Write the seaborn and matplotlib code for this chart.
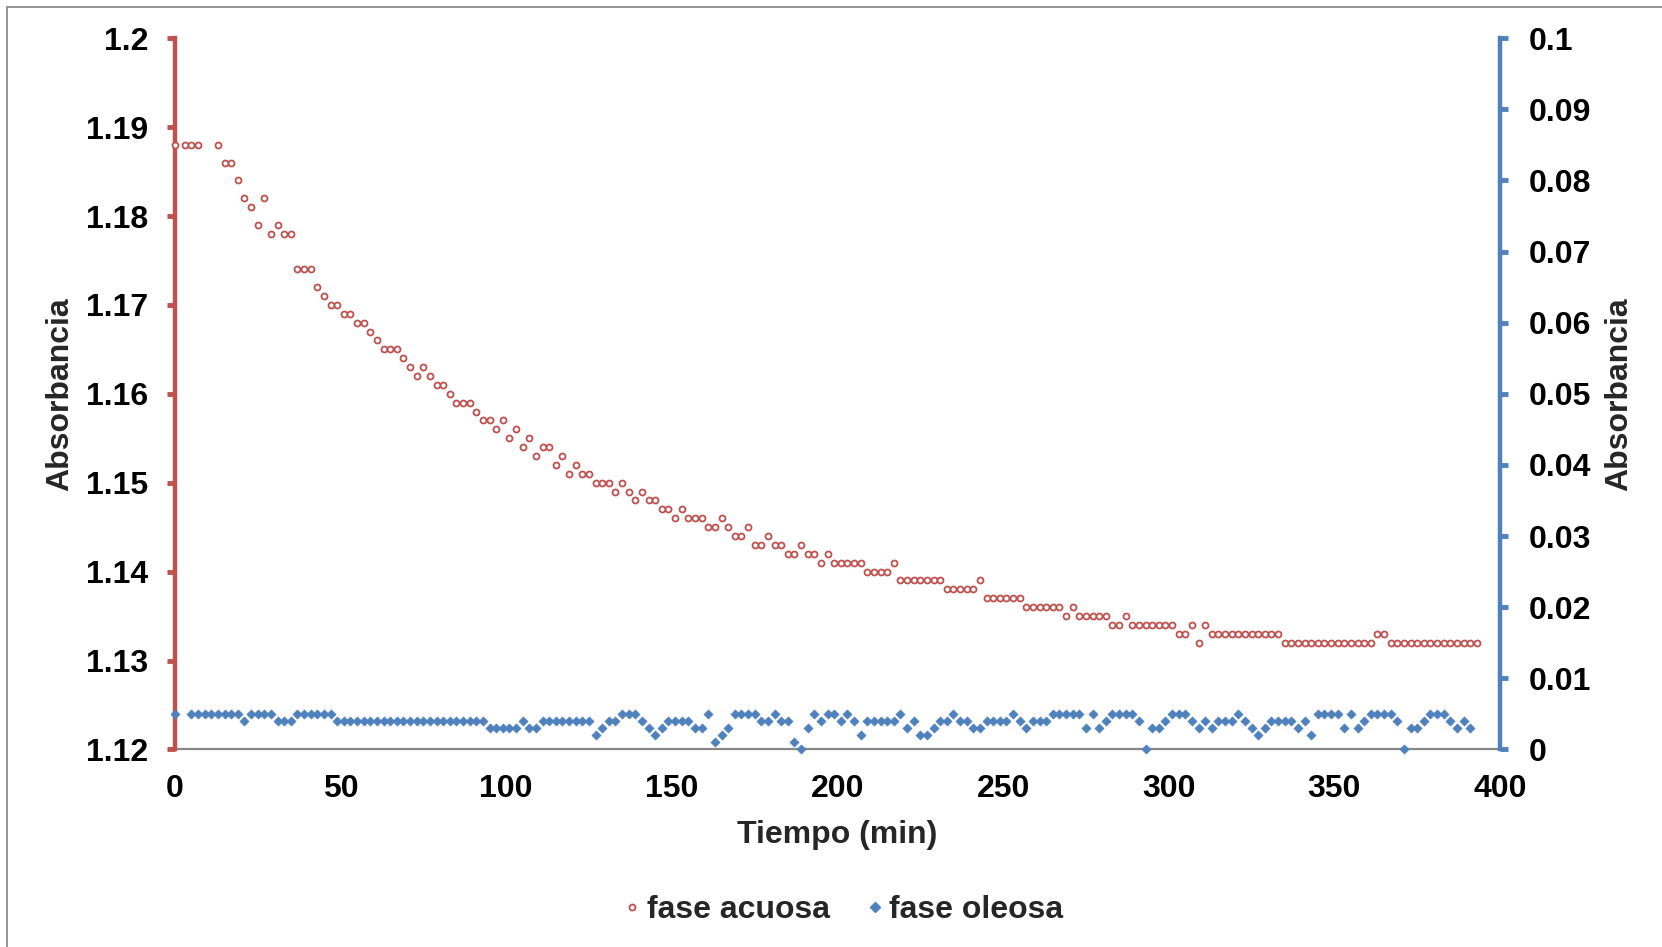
import matplotlib
matplotlib.use("Agg")
import matplotlib.pyplot as plt
from matplotlib.lines import Line2D
import seaborn as sns
import pandas as pd

# ---------------- data ----------------
red_t = [0, 3, 5, 7, 13, 15, 17, 19, 21, 23,
         25, 27, 29, 31, 33, 35, 37, 39, 41, 43,
         45, 47, 49, 51, 53, 55, 57, 59, 61, 63,
         65, 67, 69, 71, 73, 75, 77, 79, 81, 83,
         85, 87, 89, 91, 93, 95, 97, 99, 101, 103,
         105, 107, 109, 111, 113, 115, 117, 119, 121, 123,
         125, 127, 129, 131, 133, 135, 137, 139, 141, 143,
         145, 147, 149, 151, 153, 155, 157, 159, 161, 163,
         165, 167, 169, 171, 173, 175, 177, 179, 181, 183,
         185, 187, 189, 191, 193, 195, 197, 199, 201, 203,
         205, 207, 209, 211, 213, 215, 217, 219, 221, 223,
         225, 227, 229, 231, 233, 235, 237, 239, 241, 243,
         245, 247, 249, 251, 253, 255, 257, 259, 261, 263,
         265, 267, 269, 271, 273, 275, 277, 279, 281, 283,
         285, 287, 289, 291, 293, 295, 297, 299, 301, 303,
         305, 307, 309, 311, 313, 315, 317, 319, 321, 323,
         325, 327, 329, 331, 333, 335, 337, 339, 341, 343,
         345, 347, 349, 351, 353, 355, 357, 359, 361, 363,
         365, 367, 369, 371, 373, 375, 377, 379, 381, 383,
         385, 387, 389, 391, 393]
red_v = [1.188, 1.188, 1.188, 1.188, 1.188, 1.186, 1.186, 1.184, 1.182, 1.181,
         1.179, 1.182, 1.178, 1.179, 1.178, 1.178, 1.174, 1.174, 1.174, 1.172,
         1.171, 1.170, 1.170, 1.169, 1.169, 1.168, 1.168, 1.167, 1.166, 1.165,
         1.165, 1.165, 1.164, 1.163, 1.162, 1.163, 1.162, 1.161, 1.161, 1.160,
         1.159, 1.159, 1.159, 1.158, 1.157, 1.157, 1.156, 1.157, 1.155, 1.156,
         1.154, 1.155, 1.153, 1.154, 1.154, 1.152, 1.153, 1.151, 1.152, 1.151,
         1.151, 1.150, 1.150, 1.150, 1.149, 1.150, 1.149, 1.148, 1.149, 1.148,
         1.148, 1.147, 1.147, 1.146, 1.147, 1.146, 1.146, 1.146, 1.145, 1.145,
         1.146, 1.145, 1.144, 1.144, 1.145, 1.143, 1.143, 1.144, 1.143, 1.143,
         1.142, 1.142, 1.143, 1.142, 1.142, 1.141, 1.142, 1.141, 1.141, 1.141,
         1.141, 1.141, 1.140, 1.140, 1.140, 1.140, 1.141, 1.139, 1.139, 1.139,
         1.139, 1.139, 1.139, 1.139, 1.138, 1.138, 1.138, 1.138, 1.138, 1.139,
         1.137, 1.137, 1.137, 1.137, 1.137, 1.137, 1.136, 1.136, 1.136, 1.136,
         1.136, 1.136, 1.135, 1.136, 1.135, 1.135, 1.135, 1.135, 1.135, 1.134,
         1.134, 1.135, 1.134, 1.134, 1.134, 1.134, 1.134, 1.134, 1.134, 1.133,
         1.133, 1.134, 1.132, 1.134, 1.133, 1.133, 1.133, 1.133, 1.133, 1.133,
         1.133, 1.133, 1.133, 1.133, 1.133, 1.132, 1.132, 1.132, 1.132, 1.132,
         1.132, 1.132, 1.132, 1.132, 1.132, 1.132, 1.132, 1.132, 1.132, 1.133,
         1.133, 1.132, 1.132, 1.132, 1.132, 1.132, 1.132, 1.132, 1.132, 1.132,
         1.132, 1.132, 1.132, 1.132, 1.132]

blue_t = [0, 5, 7, 9, 11, 13, 15, 17, 19, 21,
          23, 25, 27, 29, 31, 33, 35, 37, 39, 41,
          43, 45, 47, 49, 51, 53, 55, 57, 59, 61,
          63, 65, 67, 69, 71, 73, 75, 77, 79, 81,
          83, 85, 87, 89, 91, 93, 95, 97, 99, 101,
          103, 105, 107, 109, 111, 113, 115, 117, 119, 121,
          123, 125, 127, 129, 131, 133, 135, 137, 139, 141,
          143, 145, 147, 149, 151, 153, 155, 157, 159, 161,
          163, 165, 167, 169, 171, 173, 175, 177, 179, 181,
          183, 185, 187, 189, 191, 193, 195, 197, 199, 201,
          203, 205, 207, 209, 211, 213, 215, 217, 219, 221,
          223, 225, 227, 229, 231, 233, 235, 237, 239, 241,
          243, 245, 247, 249, 251, 253, 255, 257, 259, 261,
          263, 265, 267, 269, 271, 273, 275, 277, 279, 281,
          283, 285, 287, 289, 291, 293, 295, 297, 299, 301,
          303, 305, 307, 309, 311, 313, 315, 317, 319, 321,
          323, 325, 327, 329, 331, 333, 335, 337, 339, 341,
          343, 345, 347, 349, 351, 353, 355, 357, 359, 361,
          363, 365, 367, 369, 371, 373, 375, 377, 379, 381,
          383, 385, 387, 389, 391]
blue_v = [0.005, 0.005, 0.005, 0.005, 0.005, 0.005, 0.005, 0.005, 0.005, 0.004,
          0.005, 0.005, 0.005, 0.005, 0.004, 0.004, 0.004, 0.005, 0.005, 0.005,
          0.005, 0.005, 0.005, 0.004, 0.004, 0.004, 0.004, 0.004, 0.004, 0.004,
          0.004, 0.004, 0.004, 0.004, 0.004, 0.004, 0.004, 0.004, 0.004, 0.004,
          0.004, 0.004, 0.004, 0.004, 0.004, 0.004, 0.003, 0.003, 0.003, 0.003,
          0.003, 0.004, 0.003, 0.003, 0.004, 0.004, 0.004, 0.004, 0.004, 0.004,
          0.004, 0.004, 0.002, 0.003, 0.004, 0.004, 0.005, 0.005, 0.005, 0.004,
          0.003, 0.002, 0.003, 0.004, 0.004, 0.004, 0.004, 0.003, 0.003, 0.005,
          0.001, 0.002, 0.003, 0.005, 0.005, 0.005, 0.005, 0.004, 0.004, 0.005,
          0.004, 0.004, 0.001, 0.000, 0.003, 0.005, 0.004, 0.005, 0.005, 0.004,
          0.005, 0.004, 0.002, 0.004, 0.004, 0.004, 0.004, 0.004, 0.005, 0.003,
          0.004, 0.002, 0.002, 0.003, 0.004, 0.004, 0.005, 0.004, 0.004, 0.003,
          0.003, 0.004, 0.004, 0.004, 0.004, 0.005, 0.004, 0.003, 0.004, 0.004,
          0.004, 0.005, 0.005, 0.005, 0.005, 0.005, 0.003, 0.005, 0.003, 0.004,
          0.005, 0.005, 0.005, 0.005, 0.004, 0.000, 0.003, 0.003, 0.004, 0.005,
          0.005, 0.005, 0.004, 0.003, 0.004, 0.003, 0.004, 0.004, 0.004, 0.005,
          0.004, 0.003, 0.002, 0.003, 0.004, 0.004, 0.004, 0.004, 0.003, 0.004,
          0.002, 0.005, 0.005, 0.005, 0.005, 0.003, 0.005, 0.003, 0.004, 0.005,
          0.005, 0.005, 0.005, 0.004, 0.000, 0.003, 0.003, 0.004, 0.005, 0.005,
          0.005, 0.004, 0.003, 0.004, 0.003]

series_names = ["fase acuosa", "fase oleosa"]
x_ticks = [0, 50, 100, 150, 200, 250, 300, 350, 400]
left_ticks = [1.12, 1.13, 1.14, 1.15, 1.16, 1.17, 1.18, 1.19, 1.2]
left_labels = ["1.12", "1.13", "1.14", "1.15", "1.16", "1.17", "1.18", "1.19", "1.2"]
right_ticks = [0, 0.01, 0.02, 0.03, 0.04, 0.05, 0.06, 0.07, 0.08, 0.09, 0.1]
right_labels = ["0", "0.01", "0.02", "0.03", "0.04", "0.05", "0.06", "0.07", "0.08", "0.09", "0.1"]

assert len(red_t) == len(red_v) and len(blue_t) == len(blue_v)

df_red = pd.DataFrame({"t": red_t, "v": red_v})
df_blue = pd.DataFrame({"t": blue_t, "v": blue_v})

# ---------------- style ----------------
sns.set_style("white")
plt.rcParams["font.family"] = ["Liberation Sans", "DejaVu Sans"]
plt.rcParams["font.weight"] = "bold"

RED = "#C0504D"
BLUE = "#4F81BD"
GRAY = "#868686"
FS = 23

RMS, RMEW = 4.3, 1.3
BMS = 4.8

W, H = 1662, 947
fig = plt.figure(figsize=(W / 100, H / 100), dpi=100)
L, R, T, B = 174.9, 1500.0, 38.2, 749.4
ax = fig.add_axes([L / W, 1 - B / H, (R - L) / W, (B - T) / H])
ax2 = ax.twinx()

sns.scatterplot(data=df_red, x="t", y="v", ax=ax, marker="o", s=RMS ** 2,
                color="white", edgecolor=RED, linewidth=RMEW, clip_on=False,
                zorder=5, legend=False)
sns.scatterplot(data=df_blue, x="t", y="v", ax=ax2, marker="D", s=BMS ** 2,
                color=BLUE, edgecolor=BLUE, linewidth=0.3, clip_on=False,
                zorder=5, legend=False)

ax.set_xlim(0, 400)
ax.set_ylim(1.12, 1.2)
ax2.set_ylim(0, 0.1)
ax.set_xticks(x_ticks)
ax.set_xticklabels([str(v) for v in x_ticks], fontsize=FS, fontweight="bold")
ax.set_yticks(left_ticks)
ax.set_yticklabels(left_labels, fontsize=FS, fontweight="bold")
ax2.set_yticks(right_ticks)
ax2.set_yticklabels(right_labels, fontsize=FS, fontweight="bold")

for a in (ax, ax2):
    a.grid(False)
    a.spines["top"].set_visible(False)
ax.spines["right"].set_visible(False)
ax2.spines["left"].set_visible(False)
ax2.spines["bottom"].set_visible(False)

ax.spines["left"].set_color(RED)
ax.spines["left"].set_linewidth(3.2)
ax.spines["left"].set_zorder(3)
ax.spines["bottom"].set_color(GRAY)
ax.spines["bottom"].set_linewidth(1.6)
ax2.spines["right"].set_color(BLUE)
ax2.spines["right"].set_linewidth(3.2)

ax.tick_params(axis="y", direction="out", length=5.5, width=3.5, color=RED,
               pad=13.5, left=True, labelcolor="black")
ax.tick_params(axis="x", length=0, pad=18, labelcolor="black")
ax2.tick_params(axis="y", direction="out", length=5.5, width=3.5, color=BLUE,
                pad=15.5, right=True, labelcolor="black")

ax.set_ylabel("Absorbancia", fontsize=FS, fontweight="bold")
ax.yaxis.label.set_verticalalignment("center")
ax.yaxis.set_label_coords((60 - L) / (R - L), 0.5)
ax2.set_ylabel("Absorbancia", fontsize=FS, fontweight="bold", rotation=90)
ax2.yaxis.label.set_verticalalignment("center")
ax2.yaxis.set_label_coords((1619 - L) / (R - L), 0.5)
ax.set_xlabel("Tiempo (min)", fontsize=FS, fontweight="bold")
ax.xaxis.label.set_verticalalignment("center")
ax.xaxis.set_label_coords(0.5, -(835 - B) / (B - T))

handles = [
    Line2D([], [], linestyle="none", marker="o", markersize=RMS,
           markerfacecolor="white", markeredgecolor=RED, markeredgewidth=RMEW),
    Line2D([], [], linestyle="none", marker="D", markersize=BMS,
           markerfacecolor=BLUE, markeredgecolor=BLUE),
]
fig.legend(handles, series_names, loc="center",
           bbox_to_anchor=(843 / W, 1 - 910 / H), ncol=2, frameon=False,
           prop={"size": FS, "weight": "bold"}, handlelength=0.6,
           handletextpad=0.15, columnspacing=1.1)

# outer chart frame (left and top edges visible)
fig.add_artist(Line2D([6.7 / W, 6.7 / W], [0, 1 - 6.7 / H], transform=fig.transFigure,
                      color="#8C8C8C", linewidth=1.3))
fig.add_artist(Line2D([6.7 / W, 1], [1 - 6.7 / H, 1 - 6.7 / H], transform=fig.transFigure,
                      color="#8C8C8C", linewidth=1.3))

fig.savefig("out.png", dpi=100, facecolor="white")
